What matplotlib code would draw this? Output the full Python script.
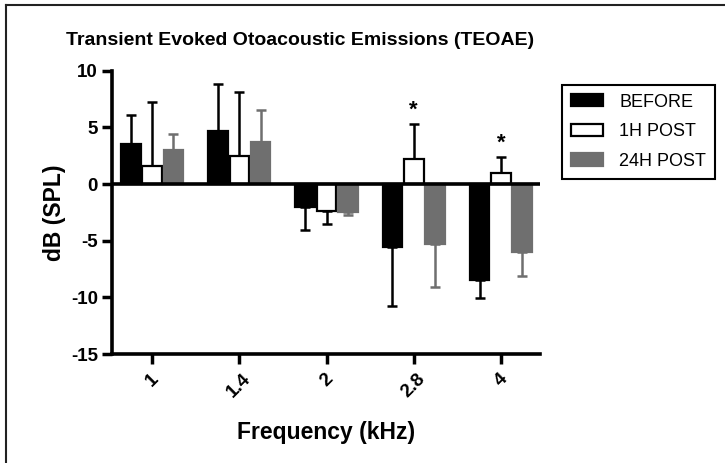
import matplotlib.pyplot as plt
import numpy as np
from matplotlib.lines import Line2D

plt.rcParams['font.family'] = ['Liberation Sans', 'DejaVu Sans']
plt.rcParams['axes.unicode_minus'] = False

freqs = ['1', '1.4', '2', '2.8', '4']
before = [3.5, 4.7, -2.0, -5.6, -8.5]
before_err = [2.6, 4.1, 2.1, 5.2, 1.6]
post1h = [1.6, 2.5, -2.4, 2.2, 1.0]
post1h_err = [5.6, 5.6, 1.1, 3.1, 1.4]
post24h = [3.0, 3.7, -2.5, -5.3, -6.0]
post24h_err = [1.4, 2.8, 0.2, 3.8, 2.1]
star_idx = [3, 4]   # significant 1H POST bars

fig = plt.figure(figsize=(7.25, 4.63), dpi=100)
ax = fig.add_axes([0.1545, 0.2354, 0.745 - 0.1545, 0.8473 - 0.2354])

x = np.arange(len(freqs))
w = 0.225
off = 0.245
gray = '#6f6f6f'


def one_sided(vals, errs):
    # error bar only drawn away from zero
    lo = [e if v < 0 else 0 for v, e in zip(vals, errs)]
    hi = [e if v >= 0 else 0 for v, e in zip(vals, errs)]
    return [lo, hi]


series = [
    (before, before_err, -off, 'black', 'black', 'black', 'BEFORE'),
    (post1h, post1h_err, 0, 'white', 'black', 'black', '1H POST'),
    (post24h, post24h_err, off, gray, gray, gray, '24H POST'),
]
for vals, errs, dx, fc, ec, errc, lab in series:
    ax.bar(x + dx, vals, w, color=fc, edgecolor=ec, linewidth=1.6, label=lab, zorder=3)
    ax.errorbar(x + dx, vals, yerr=one_sided(vals, errs), fmt='none', ecolor=errc,
                elinewidth=1.8, capsize=3.6, capthick=1.8, zorder=2)

for i in star_idx:
    top = post1h[i] + post1h_err[i]
    ax.annotate('*', (x[i], top), xytext=(0, 2), textcoords='offset points',
                ha='center', va='bottom', fontsize=16, fontweight='bold')

ax.axhline(0, color='black', linewidth=2.6, zorder=4)

ax.set_xlim(-0.46, 4.45)
ax.set_ylim(-15, 10)
ax.set_yticks([-15, -10, -5, 0, 5, 10])
ax.set_xticks(x)
ax.set_xticklabels(freqs, rotation=45)
ax.tick_params(width=2.5, length=7, labelsize=13.5, pad=3)
ax.tick_params(axis='x', pad=5)
for lbl in ax.get_xticklabels() + ax.get_yticklabels():
    lbl.set_fontweight('bold')
for s in ['top', 'right']:
    ax.spines[s].set_visible(False)
for s in ['left', 'bottom']:
    ax.spines[s].set_linewidth(2.6)

ax.set_xlabel('Frequency (kHz)', fontsize=16.5, fontweight='bold', labelpad=14)
ax.set_ylabel('dB (SPL)', fontsize=16.5, fontweight='bold', labelpad=4)

fig.text(66 / 725, 1 - 45 / 463, 'Transient Evoked Otoacoustic Emissions (TEOAE)',
         ha='left', va='baseline', fontsize=14, fontweight='bold')

leg = ax.legend(loc='upper left', bbox_to_anchor=(562 / 725, 1 - 85 / 463),
                bbox_transform=fig.transFigure, borderaxespad=0, fontsize=13,
                handlelength=1.78, handleheight=0.67, handletextpad=0.9,
                labelspacing=0.7, borderpad=0.48, fancybox=False, framealpha=1)
leg.get_frame().set_edgecolor('black')
leg.get_frame().set_linewidth(1.5)

# outer frame (left and top edges)
fig.add_artist(Line2D([6 / 725, 6 / 725], [0, 1 - 5 / 463], color='#222222', linewidth=1.5))
fig.add_artist(Line2D([6 / 725, 1], [1 - 5 / 463, 1 - 5 / 463], color='#222222', linewidth=1.5))

fig.savefig('out.png', dpi=100)
